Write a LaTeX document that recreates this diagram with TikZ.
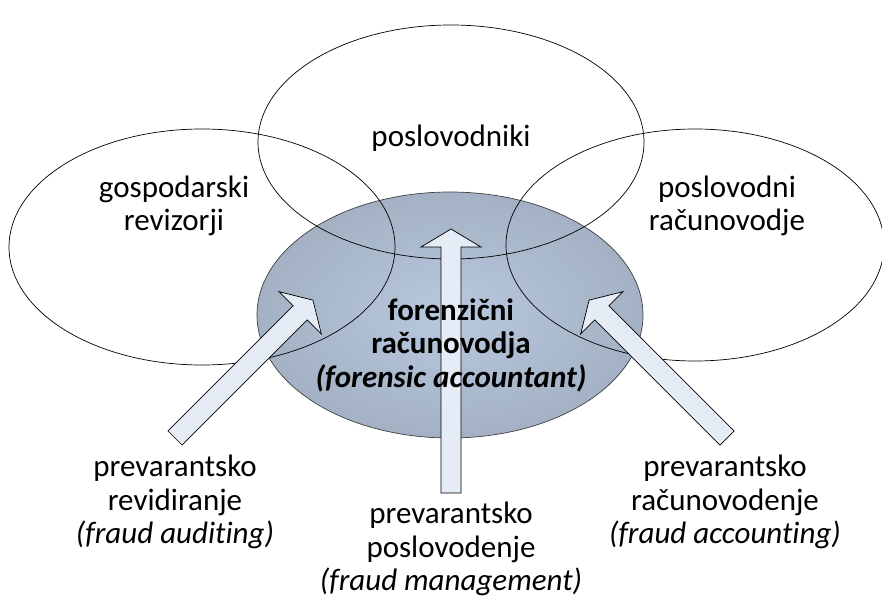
\documentclass[tikz,border=0pt]{standalone}
\usepackage{fontspec}
\setmainfont{Carlito}[Ligatures=NoCommon]
\usetikzlibrary{shapes.geometric}
\definecolor{ecin}{RGB}{184,200,222}
\definecolor{ecout}{RGB}{144,154,170}
\definecolor{arrfill}{RGB}{230,236,246}
\pgfdeclareradialshading{ellgrad}{\pgfpoint{0bp}{0bp}}{color(0bp)=(ecin); color(50bp)=(ecout); color(100bp)=(ecout)}
\newcommand\BlkArr[3]{%
  \draw[blockarrow,shift={(#1)},rotate=#2] (0,-10) -- (#3-18,-10) -- (#3-18,-30) -- (#3,0) -- (#3-18,30) -- (#3-18,10) -- (0,10) -- cycle;}
\begin{document}
\begin{tikzpicture}[x=1pt,y=1pt,
  ring/.style={ellipse, draw=black, line width=0.7pt, inner sep=0pt, outer sep=0pt},
  core/.style={ellipse, draw=black!75, line width=0.7pt, shading=ellgrad, inner sep=0pt, outer sep=0pt},
  blockarrow/.style={draw=black, line width=0.7pt, fill=arrfill, line join=miter},
  lbl/.style={align=center, inner sep=0pt, font=\fontsize{31}{33.5}\selectfont},
  blbl/.style={lbl, font=\fontsize{31}{33.5}\selectfont\bfseries}]
\useasboundingbox (0,0) rectangle (882,600);
\clip (0,0) rectangle (882,600);
% central shaded ellipse
\node[core, minimum width=386pt, minimum height=246pt] (fa) at (450,285) {};
% outer ellipses
\node[ring, minimum width=386pt, minimum height=234pt] (mgr) at (451,458) {};
\node[ring, minimum width=386pt, minimum height=236pt] (aud) at (202,353) {};
\node[ring, minimum width=378pt, minimum height=232pt] (acc) at (695,355) {};
% arrow end points
\coordinate (tailL) at (175,162);
\coordinate (tailC) at (451,107);
\coordinate (tailR) at (727,162);
\BlkArr{tailL}{45}{195}
\BlkArr{tailC}{90}{264}
\BlkArr{tailR}{135}{195}
% texts
\node[lbl] (tmgr) at (451,462) {poslovodniki};
\node[lbl] (taud) at (174,394) {gospodarski\\revizorji};
\node[lbl] (tacc) at (727,394) {poslovodni\\računovodje};
\node[blbl] (tfa) at (451,255) {forenzični\\računovodja\\\textit{(forensic accountant)}};
\node[lbl] (fl) at (175,98) {prevarantsko\\revidiranje\\\textit{(fraud auditing)}};
\node[lbl] (fr) at (725,98) {prevarantsko\\računovodenje\\\textit{(fraud accounting)}};
\node[lbl] (fc) at (451,51) {prevarantsko\\poslovodenje\\\textit{(fraud management)}};
\end{tikzpicture}
\end{document}
